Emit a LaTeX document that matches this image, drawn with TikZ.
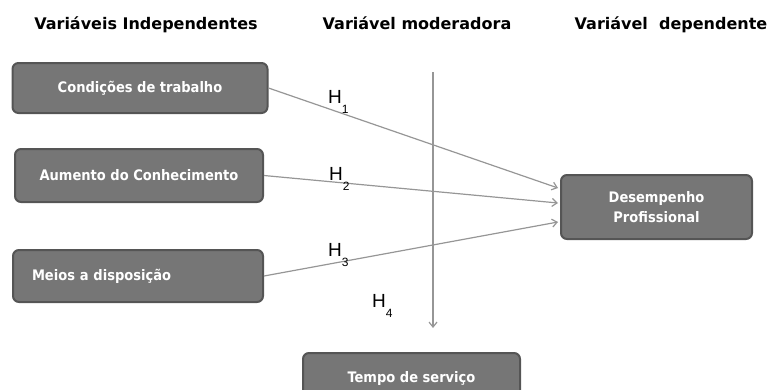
\documentclass[tikz,border=0pt]{standalone}
\usepackage{fontspec}
\setmainfont{Liberation Sans}
\newfontfamily\boxfont{DejaVu Sans Condensed}
\newfontfamily\headfont{DejaVu Sans}
\usetikzlibrary{arrows.meta}
\definecolor{boxgray}{RGB}{118,118,118}
\definecolor{boxedge}{RGB}{85,85,85}
\definecolor{linegray}{RGB}{150,150,150}
\newcommand{\hsub}[1]{H\raisebox{-10pt}{\fontsize{12}{12}\selectfont #1}}
\begin{document}
\begin{tikzpicture}[x=1pt,y=-1pt,
    var/.style={draw=boxedge,line width=2pt,fill=boxgray,rounded corners=6pt,text=white,
      font=\boxfont\bfseries\fontsize{14.5}{20}\selectfont,align=center,inner sep=0pt,minimum height=50pt},
    head/.style={anchor=base,inner sep=0pt,font=\headfont\bfseries\fontsize{16}{19}\selectfont},
    hyp/.style={anchor=base west,inner sep=0pt,font=\fontsize{19}{22}\selectfont},
    link/.style={draw=linegray,line width=1.2pt,-{Straight Barb[length=5pt,width=8pt]}}]
        \clip (0,0) rectangle (770,389);

        \node[head] (hind) at (146,29) {Variáveis Independentes};
        \node[head] (hmod) at (417,29) {Variável moderadora};
        \node[head] (hdep) at (671,29) {Variável~~dependente};

        \node[var,minimum width=255pt] (cond) at (140,88) {Condições de trabalho};
        \node[var,minimum width=248pt,minimum height=53pt] (aum) at (139,175.5) {Aumento do Conhecimento};
        \node[var,minimum width=250pt,minimum height=52pt,text width=212pt,align=left] (meios) at (138,276) {Meios a disposição};
        \node[var,minimum width=191pt,minimum height=64pt] (desemp) at (656.5,207) {Desempenho\\Profissional};
        \node[var,minimum width=217pt] (tempo) at (411.5,378) {Tempo de serviço};

        \coordinate (e1) at (558,188);
        \coordinate (e2) at (558,203);
        \coordinate (e3) at (558,222);
        \coordinate (mtop) at (433,72);
        \coordinate (mbot) at (433,328);

        \draw[link] (cond.east) -- (e1);
        \draw[link] (aum.east) -- (e2);
        \draw[link] (meios.east) -- (e3);
        \draw[link] (mtop) -- (mbot);

        \node[hyp] (h1) at (328,103) {\hsub{1}};
        \node[hyp] (h2) at (329,180) {\hsub{2}};
        \node[hyp] (h3) at (328,256) {\hsub{3}};
        \node[hyp] (h4) at (372,307) {\hsub{4}};
    \end{tikzpicture}
\end{document}
